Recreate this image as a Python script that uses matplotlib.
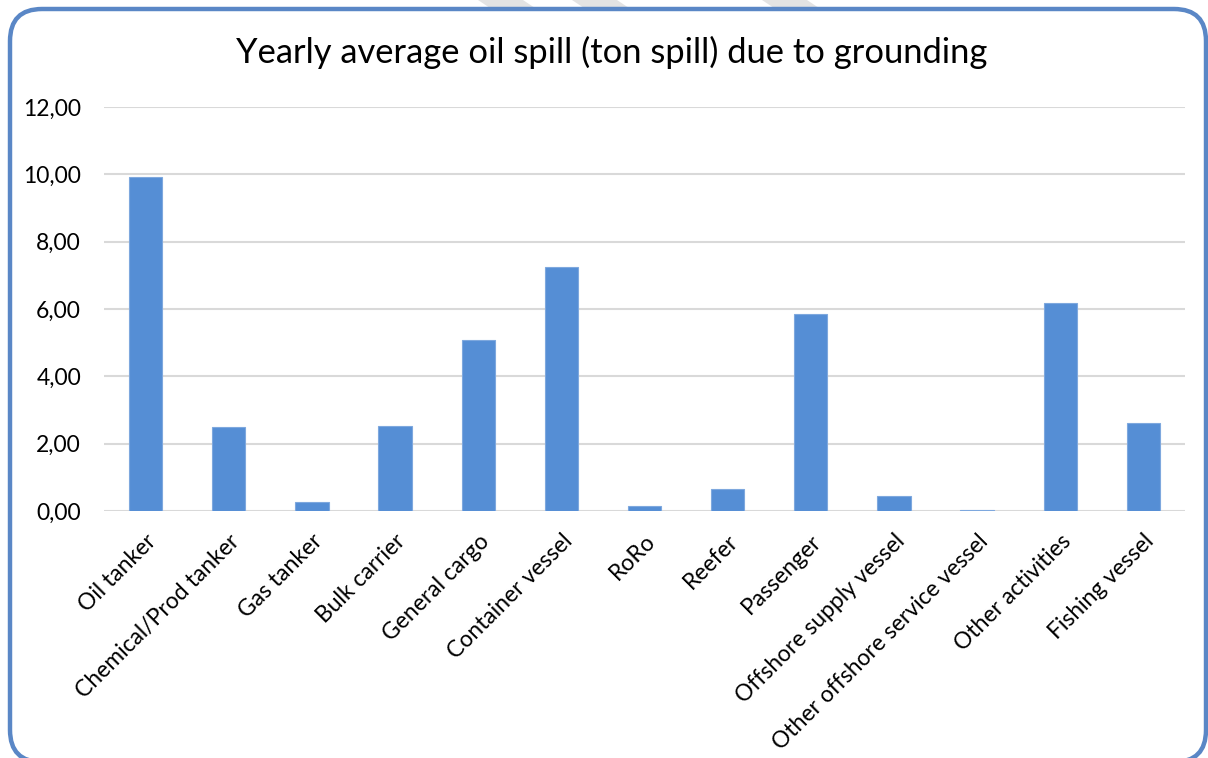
import numpy as np
import matplotlib
matplotlib.use('Agg')
import matplotlib.pyplot as plt
from matplotlib.patches import FancyBboxPatch, Polygon

plt.rcParams['font.family'] = ['Lato', 'DejaVu Sans']

categories = ['Oil tanker', 'Chemical/Prod tanker', 'Gas tanker', 'Bulk carrier',
              'General cargo', 'Container vessel', 'RoRo', 'Reefer', 'Passenger',
              'Offshore supply vessel', 'Other offshore service vessel',
              'Other activities', 'Fishing vessel']
spill = [9.92, 2.49, 0.28, 2.51, 5.07, 7.25, 0.14, 0.65, 5.86, 0.45, 0.03, 6.19, 2.61]
yticks = [0, 2, 4, 6, 8, 10, 12]

W, H = 1208, 758
fig = plt.figure(figsize=(W / 100, H / 100), dpi=100)
fig.patch.set_facecolor('white')

# background layer in pixel units (y up): grey stripes and the rounded frame
bg = fig.add_axes([0, 0, 1, 1], zorder=0)
bg.set_xlim(0, W)
bg.set_ylim(0, H)
bg.axis('off')
for x0 in [478, 572, 762]:
    bg.add_patch(Polygon([(x0, H), (x0 + 45, H), (x0 + 60, H - 10), (x0 + 15, H - 10)],
                         closed=True, facecolor='#E3E3E3', edgecolor='none'))
bg.add_patch(FancyBboxPatch((10, -4), 1196, H - 9 + 4,
                            boxstyle='round,pad=0,rounding_size=32',
                            facecolor='none', edgecolor='#5A87C6', linewidth=3.2,
                            clip_on=False))

ax = fig.add_axes([104 / W, 1 - 511 / H, 1081 / W, 404 / H], zorder=1)
ax.patch.set_alpha(0)
x = np.arange(len(categories))
ax.bar(x, spill, width=0.4, color='#558ED5', edgecolor='#7EA8DE', linewidth=0.8, zorder=3)

ax.set_xlim(-0.5, len(categories) - 0.5)
ax.set_ylim(0, 12)
ax.set_yticks(yticks)
ax.yaxis.set_major_formatter(plt.FuncFormatter(lambda v, p: ('%.2f' % v).replace('.', ',')))
ax.grid(axis='y', color='#D9D9D9', linewidth=1.5, zorder=0)
for s in ax.spines.values():
    s.set_visible(False)
ax.tick_params(axis='both', length=0, labelsize=16.5, colors='black')
ax.tick_params(axis='y', pad=16.5)
ax.set_xticks(x)
ax.set_xticklabels(categories, rotation=45, ha='right', va='top', rotation_mode='anchor')
ax.tick_params(axis='x', pad=14)

fig.text(612 / W, 1 - 52 / H, 'Yearly average oil spill (ton spill) due to grounding',
         ha='center', va='center', fontsize=24.8, color='black')

fig.savefig('out.png', dpi=100)
